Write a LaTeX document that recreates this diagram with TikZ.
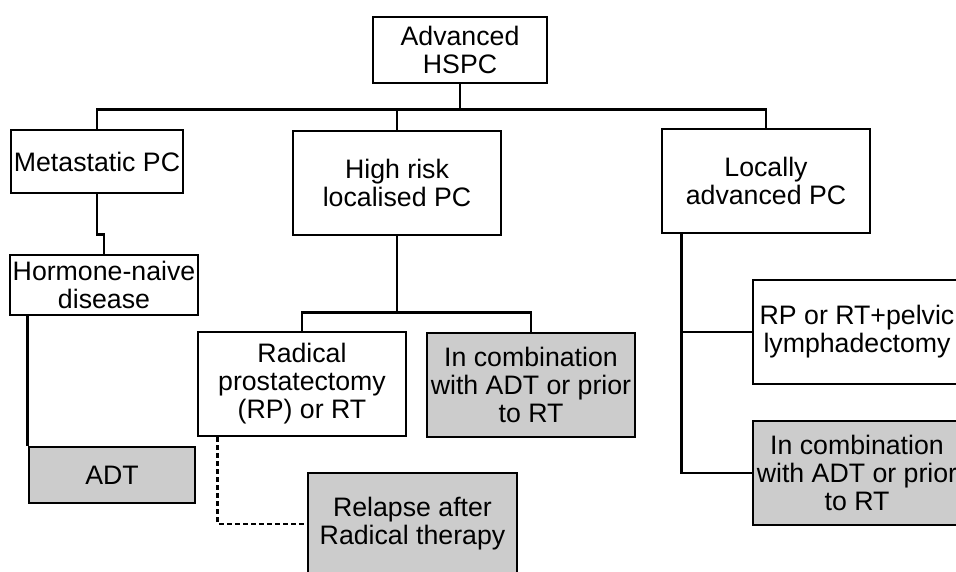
\documentclass[tikz,border=0pt]{standalone}
\usepackage{fontspec}
\setmainfont{Liberation Sans}
\begin{document}
\begin{tikzpicture}[x=1pt,y=-1pt,
  box/.style={draw=black,line width=2.6pt,fill=white,inner sep=0pt,align=center,
    font=\fontsize{26.7}{28}\selectfont},
  graybox/.style={box,fill=gray!40},
  link/.style={draw=black,line width=2.6pt},
  dashlink/.style={link,dash pattern=on 5pt off 3pt}]
\useasboundingbox (0,0) rectangle (956,572);
\clip (0,0) rectangle (956,572);
\fill[white] (0,0) rectangle (956,572);
% nodes
\node[box,minimum width=174pt,minimum height=66pt] (top) at (460,50) {Advanced\\HSPC};
\node[box,minimum width=172pt,minimum height=63pt] (meta) at (97,161.5) {Metastatic PC};
\node[box,minimum width=208pt,minimum height=104pt] (high) at (397,183) {High risk\\localised PC};
\node[box,minimum width=208pt,minimum height=104pt] (local) at (766,181) {Locally\\advanced PC};
\node[box,minimum width=188pt,minimum height=60pt] (horm) at (104,285) {Hormone-naive\\disease};
\node[graybox,minimum width=166pt,minimum height=56pt] (adt) at (112,475) {ADT};
\node[box,minimum width=208pt,minimum height=104pt] (rad) at (302,384) {Radical\\prostatectomy\\(RP) or RT};
\node[graybox,minimum width=208pt,minimum height=104pt] (comboA) at (531,385) {In combination\\with ADT or prior\\to RT};
\node[graybox,minimum width=209pt,minimum height=102pt] (relapse) at (412.5,524) {Relapse after\\Radical therapy};
\node[box,minimum width=208pt,minimum height=104pt] (rprt) at (857,332) {RP or RT+pelvic\\lymphadectomy};
\node[graybox,minimum width=208pt,minimum height=104pt] (comboB) at (857,473) {In combination\\with ADT or prior\\to RT};
% connectors
\draw[link] (top.south) -- ++(0,25) coordinate (j0);
\draw[link] (meta.north) |- (j0) -| (local.north);
\draw[link] (high.north) -- (high.north |- j0);
\draw[link] (meta.south) -- ++(0,40) -| (horm.north);
\draw[link] (adt.north west |- horm.south) -- (adt.north west);
\draw[link] (high.south) -- ++(0,76) coordinate (j1);
\draw[link] (rad.north) |- (j1) -| (comboA.north);
\draw[dashlink] ([xshift=21pt]rad.south west) |- (relapse.west);
\draw[link] ([xshift=21pt]local.south west) coordinate (j2) |- (comboB.west);
\draw[link] (rprt.west) -- (rprt.west -| j2);
\end{tikzpicture}
\end{document}
